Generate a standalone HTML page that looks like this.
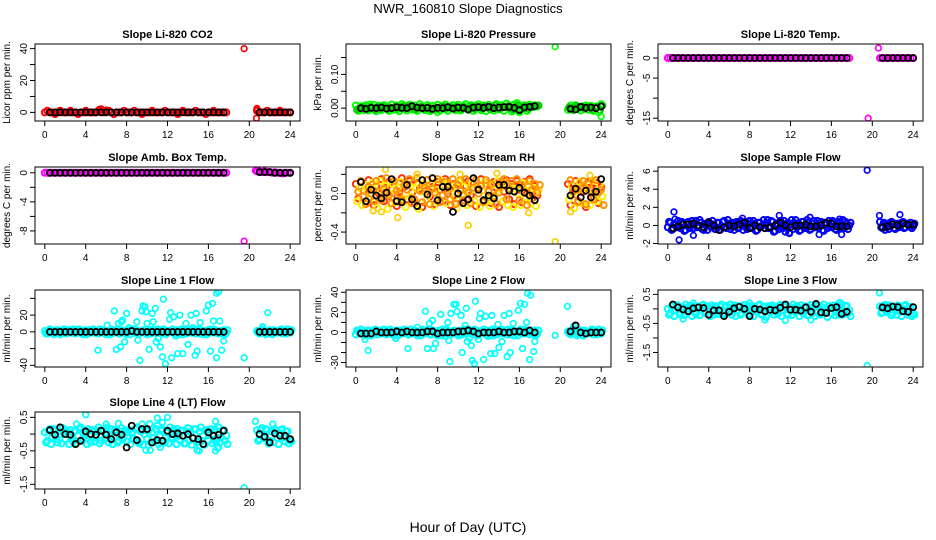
<!DOCTYPE html>
<html><head><meta charset="utf-8"><title>NWR_160810 Slope Diagnostics</title>
<style>
html,body{margin:0;padding:0;background:#fff;}
svg{display:block;font-family:"Liberation Sans",sans-serif;}
</style></head>
<body>
<svg id="chart" width="936" height="540" viewBox="0 0 936 540" xmlns="http://www.w3.org/2000/svg">
<rect width="936" height="540" fill="#fff"/>
<text x="468" y="13" text-anchor="middle" font-size="13">NWR_160810  Slope Diagnostics</text>
<text x="468" y="532" text-anchor="middle" font-size="14">Hour of Day (UTC)</text>
</svg>
<script>
// ---------- shared categories ----------
const xTicks = [0, 4, 8, 12, 16, 20, 24];
const blackHours = [0.5,1,1.5,2,2.5,3,3.5,4,4.5,5,5.5,6,6.5,7,7.5,8,8.5,9,9.5,10,10.5,11,11.5,12,12.5,13,13.5,14,14.5,15,15.5,16,16.5,17,17.5,21,21.5,22,22.5,23,23.5,24];
const bandHours = [];
for (let t = 0; t <= 17.75; t += 0.25) bandHours.push(t);
for (let t = 20.75; t <= 24; t += 0.25) bandHours.push(t);

// ---------- CO2 ----------
const co2Band = [0,1,0,0,-1,0,1,0,0,0, 1,0,0,-1,0,0,1,0,0,0, 0,1,2,0,1,1,0,-1,0,0, 0,1,0,0,0,1,0,0,-1,0, 0,0,1,0,0,0,0,1,0,0, 0,0,-1,0,1,0,0,0,0,1, 0,0,0,-1,0,0,1,0,0,0, 0,0, 1,0,0,0,1,0,0,0,0,1,0,0,0,0];
const co2OutHours = [19.5,20.7,20.75,20.8,5.3,6.0];
const co2OutVals = [40,-3.7,2.5,1.5,1.8,1.5];
const co2Black = [0,0,0,0,0,0,0,0,0,0,0,0,0,0,0,0,0,0,0,0,0,0,0,0,0,0,0,0,0,0,0,0,0,0,0,0,0,0,0,0,0,0];
const co2Ticks = [0,10,20,30,40];
const co2Labels = ["0","","20","","40"];

// ---------- Pressure ----------
const presBandA = [-0.004,-0.002,0.002,0.003,-0.003,0.004,0.000,-0.004,0.003,-0.002, 0.004,0.001,-0.003,0.002,0.000,0.004,-0.002,0.003,0.006,-0.001, 0.005,0.002,0.000,-0.003,0.002,0.004,-0.002,0.001,0.003,-0.004, 0.000,0.002,-0.003,0.004,0.005,-0.001,0.002,0.003,-0.002,0.004, 0.001,-0.003,0.003,0.000,0.005,0.002,-0.002,0.004,0.003,-0.001, 0.006,0.002,-0.003,0.004,0.008,0.001,-0.002,0.004,0.003,0.006, 0.000,-0.004,0.004,0.008,-0.003,0.002,0.005,-0.002,0.004,0.003, 0.006,0.008, 0.002,-0.003,0.004,0.006,0.001,0.003,-0.002,0.002,0.004,-0.004,0.001,0.003,-0.006,0.008];
const presBandB = [0.008,-0.008,0.006,-0.006,0.009,-0.007,0.005,0.010,-0.009,0.007, -0.006,0.009,0.004,-0.008,0.011,-0.005,0.008,-0.009,0.012,0.006, -0.007,0.010,-0.004,0.008,-0.008,0.012,0.005,-0.006,0.009,-0.009, 0.007,-0.005,0.010,-0.007,0.006,0.011,-0.008,0.004,0.009,-0.006, 0.010,-0.007,0.006,0.012,-0.005,0.009,-0.008,0.007,0.011,-0.006, 0.008,-0.009,0.010,0.005,-0.007,0.012,-0.004,0.009,-0.008,0.014, 0.006,-0.010,0.011,0.015,-0.012,0.007,0.009,-0.008,0.010,0.006, 0.009,0.005, -0.005,0.008,-0.006,0.009,0.004,-0.007,0.006,0.008,-0.005,0.007,-0.008,0.005,-0.012,0.012];
const presOutHours = [19.5,8.0,16.0,24.0,1.4];
const presOutVals = [0.182,-0.013,-0.013,-0.025,0.012];
const presBlack = [0,-0.002,0.001,0,0.002,-0.001,0,0.003,0.001,0, 0.006,0.002,0,0.001,-0.002,0.001,0,0.003,-0.001,0.002, 0.001,-0.004,0.002,0.003,0.001,0.004,0,0.002,0.003,0.004, 0.001,-0.006,0.002,0.004,0.006, -0.002,-0.004,0.004,0.001,0.002,0,0.005];
const presTicks = [0,0.05,0.10,0.15];
const presLabels = ["0.00","","0.10",""];

// ---------- Li-820 Temp ----------
const tempBand = [0,0,0,0,0,0,0,0,0,0, 0,0,0,0,0,0,0,0,0,0, 0,0,0,0,0,0,0,0,0,0, 0,0,0,0,0,0,0,0,0,0, 0,0,0,0,0,0,0,0,0,0, 0,0,0,0,0,0,0,0,0,0, 0,0,0,0,0,0,0,0,0,0, 0,0, 0,0,0,0,0,0,0,0,0,0,0,0,0,0];
const tempOutHours = [19.6,20.6,20.75];
const tempOutVals = [-15,2.5,0];
const tempBlack = [0,0,0,0,0,0,0,0,0,0,0,0,0,0,0,0,0,0,0,0,0,0,0,0,0,0,0,0,0,0,0,0,0,0,0,0,0,0,0,0,0,0];
const tempTicks = [0,-5,-10,-15];
const tempLabels = ["0","-5","","-15"];

// ---------- Amb Box Temp ----------
const ambBand = [0,0,0,0,0,0,0,0,0,0, 0,0,0,0,0,0,0,0,0,0, 0,0,0,0,0,0,0,0,0,0, 0,0,0,0,0,0,0,0,0,0, 0,0,0,0,0,0,0,0,0,0, 0,0,0,0,0,0,0,0,0,0, 0,0,0,0,0,0,0,0,0,0, 0,0, 0.2,0.2,0.1,0.2,0.1,0.1,0,0.1,0,0,-0.1,0,0,0];
const ambOutHours = [19.5,20.6,21.0];
const ambOutVals = [-9.4,0.3,0.2];
const ambBlack = [0,0,0,0,0,0,0,0,0,0,0,0,0,0,0,0,0,0,0,0,0,0,0,0,0,0,0,0,0,0,0,0,0,0,0,0.1,0.1,0.1,0,0,0,0];
const ambTicks = [0,-2,-4,-6,-8];
const ambLabels = ["0","","-4","","-8"];

// ---------- Gas Stream RH ----------
const rhBandA = [0.10,-0.05,0.12,0.03,-0.10,0.14,0.05,-0.12,0.08,0.00, 0.15,-0.08,0.06,0.12,-0.04,0.10,-0.13,0.02,0.16,0.07, -0.06,0.13,0.01,-0.10,0.11,0.05,-0.14,0.09,0.14,-0.03, 0.07,-0.11,0.12,0.04,-0.08,0.15,0.00,-0.12,0.10,0.06, -0.05,0.14,-0.09,0.08,0.13,-0.02,0.10,-0.13,0.05,0.15, -0.07,0.11,0.03,-0.10,0.12,0.06,-0.14,0.09,0.02,0.14, -0.06,0.10,-0.11,0.13,0.04,-0.09,0.12,0.00,0.15,-0.05, 0.08,-0.02, 0.10,-0.12,0.05,0.13,-0.08,0.09,0.02,-0.14,0.12,0.06,-0.04,0.11,-0.10,0.07];
const rhBandB = [-0.08,0.06,-0.12,0.09,0.02,-0.06,0.11,0.04,-0.15,0.13, -0.02,0.08,-0.16,0.00,0.10,-0.09,0.06,0.12,-0.05,-0.14, 0.09,-0.03,0.12,0.05,-0.16,0.02,0.10,-0.07,-0.01,0.11, -0.13,0.04,-0.06,0.13,0.08,-0.10,0.11,0.05,-0.04,-0.15, 0.12,-0.01,0.07,-0.12,0.02,0.10,-0.08,0.12,-0.14,0.03, 0.11,-0.06,-0.13,0.09,-0.02,0.13,0.05,-0.08,0.11,-0.12, 0.08,-0.14,0.05,0.00,-0.12,0.11,-0.04,0.09,-0.10,0.06, -0.13,0.04, -0.06,0.08,-0.15,0.02,0.12,-0.10,0.07,0.04,-0.12,0.13,0.00,-0.08,0.09,-0.03];
const rhBandC = [0.02,0.13,-0.03,-0.11,0.07,0.00,-0.08,0.13,0.02,-0.07, 0.05,0.16,-0.02,-0.10,0.13,0.03,0.00,-0.07,0.09,0.04, 0.15,-0.10,-0.06,0.16,0.03,-0.09,0.06,0.14,-0.11,0.05, 0.01,0.15,-0.09,-0.02,0.12,0.03,-0.06,0.15,-0.11,0.09, 0.03,-0.07,0.15,0.01,-0.10,0.06,0.14,0.00,0.08,-0.09, 0.14,0.02,0.10,-0.03,-0.11,0.01,0.12,0.15,-0.06,0.05, 0.13,0.02,0.15,-0.07,0.09,0.02,-0.12,0.13,0.04,0.10, 0.01,0.09, 0.14,0.02,-0.01,-0.09,0.05,0.13,-0.11,0.10,0.03,-0.06,0.14,0.01,0.04,-0.12];
const rhOutHours = [11.0,19.5,4.1,2.9,1.7,2.5,6.0,10.2,13.8,16.9,21.0,22.9];
const rhOutVals = [-0.33,-0.5,-0.25,0.25,-0.18,-0.19,0.2,0.2,0.21,-0.2,-0.19,0.19];
const rhBlack = [0.12,-0.08,0.04,-0.02,-0.05,0.01,0.15,-0.08,-0.09,0.09,-0.06,-0.13,0.14,-0.01,0.16,-0.07,0.07,0.07,-0.19,0.00,-0.10,-0.06,0.16,0.04,-0.07,-0.02,-0.05,0.09,0.09,0.03,0.02,0.06,0.01,-0.02,-0.07,-0.02,0.05,-0.04,0.03,-0.04,0.02,0.15];
const rhTicks = [-0.4,-0.2,0,0.2];
const rhLabels = ["-0.4","","0.0",""];

// ---------- Sample Flow ----------
const sampBandA = [-0.2,0.3,-0.4,0.1,0.5,-0.3,0.2,-0.5,0.4,0.0, -0.3,0.5,-0.1,0.3,-0.5,0.2,0.4,-0.2,0.1,-0.4, 0.3,-0.1,0.5,-0.3,0.2,0.0,-0.5,0.4,-0.2,0.3, 0.1,-0.4,0.5,-0.2,0.2,-0.5,0.3,0.0,-0.3,0.6, -0.1,0.4,-0.6,0.2,0.5,-0.3,-0.7,0.3,0.1,-0.4, 0.6,0.2,-0.5,0.4,-0.1,0.3,-0.4,0.5,0.0,-0.3, 0.4,-0.6,0.2,0.5,-0.2,0.3,-0.5,0.4,0.1,-0.3, 0.2,0.0, 0.4,-0.3,-0.5,0.2,-0.1,0.3,-0.4,0.2,0.0,0.4,-0.2,0.1,0.3,-0.1];
const sampBandB = [0.4,-0.5,0.2,-0.2,-0.1,0.4,-0.6,0.3,-0.3,0.5, 0.2,-0.2,0.6,-0.4,0.1,-0.5,0.0,0.5,-0.4,0.3, -0.5,0.4,-0.2,0.6,-0.4,0.3,0.2,-0.3,0.5,-0.5, 0.4,0.2,-0.3,0.5,-0.6,0.3,-0.1,0.6,0.2,-0.3, 0.5,-0.7,0.1,-0.4,-0.2,0.5,0.2,-0.8,0.6,0.3, -0.2,-0.6,0.4,-0.3,0.6,-0.5,0.2,-0.2,0.5,0.3, -0.5,0.3,-0.3,-0.1,0.5,-0.4,0.2,-0.2,0.6,0.4, -0.4,0.3, -0.2,0.3,0.1,-0.4,0.4,-0.3,0.1,-0.2,0.3,-0.3,0.2,-0.1,-0.3,0.2];
const sampOutHours = [19.5,0.6,0.7,1.1,20.7,22.7,2.5,14.8,11.9,10.9,13.9,7.3,17.0,16.8];
const sampOutVals = [6.1,1.5,0.7,-1.6,1.1,1.2,-1.1,-1.0,-0.9,1.1,0.9,0.8,-1.0,0.7];
const sampBlack = [-0.3,-0.1,0.1,0.1,0.2,0.0,-0.2,0.3,0.0,-0.5,-0.2,0.0,-0.1,0.1,0.3,-0.3,0.0,-0.2,-0.3,-0.2,0.0,0.3,0.0,-0.2,0.0,0.0,0.1,-0.1,-0.1,0.0,0.3,0.2,-0.1,-0.1,-0.1,-0.2,-0.1,0.1,0.0,0.2,0.1,0.1];
const sampTicks = [-2,0,2,4,6];
const sampLabels = ["-2","0","2","4","6"];

// ---------- Line 1 Flow ----------
const l1BandA = [1,-2,3,0,-1,2,-3,1,0,2, -1,3,-2,0,1,-3,2,0,-1,3, 1,-2,0,2,-3,1,3,-1,0,-2, 2,1,-3,0,3,-1,2,-2,1,0, -3,2,1,-1,3,0,-2,2,-1,1, 3,-2,0,1,-3,2,-1,3,0,-2, 1,2,-3,0,2,-1,3,1,-2,0, 2,-1, 1,-2,3,0,-1,2,-3,1,0,2,-2,1,3,-1];
const l1BandB = [-2,1,0,-3,2,1,-1,3,-2,0, 2,-1,1,3,-2,0,-3,2,1,-1, -2,3,1,-1,0,-3,2,1,3,-2, 0,-1,2,-3,1,3,-2,0,2,-1, 1,-2,3,0,-1,2,3,-3,1,0, -1,2,-3,3,0,-2,1,-1,2,3, -2,0,1,-3,3,2,-1,0,1,-2, -3,2, -1,2,0,-3,1,-2,2,0,-1,3,1,-2,0,2];
const l1OutHours = [5.2,6.8,7.0,7.2,7.4,7.5,7.6,7.8,8.0,8.2,9.0,9.1,9.3,9.5,9.6,9.8,9.9,10.0,10.2,10.5,10.6,10.8,10.9,11.1,11.3,11.5,11.6,11.8,12.2,12.3,12.4,12.6,12.8,13.0,13.2,13.5,13.8,14.0,14.3,14.5,14.7,14.9,14.8,15.2,15.8,16.0,16.2,16.5,16.4,16.8,16.8,17.0,17.1,17.3,17.5,19.5,21.8,21.3,3.0,4.0,6.1];
const l1OutVals = [-22,25,-21,10,-18,12,14,-12,22,5,12,-10,-34,25,31,30,24,10,-21,22,12,28,-12,-8,-18,-30,39,-38,15,23,-31,18,-5,-26,20,-26,10,-15,20,5,-28,-23,22,11,25,32,-23,13,34,-31,46,48,13,-22,-11,-31,23,6,3,-3,8];
const l1Black = [0,0,0,0,0,0,0,0,0,0,0,0,0,0,0,0,1,0,0,0,0,0,0,0,0,0,0,0,0,0,0,0,0,0,0,0,0,0,0,0,0,0];
const l1Ticks = [-40,-20,0,20,40];
const l1Labels = ["-40","","0","20",""];

// ---------- Line 2 Flow ----------
const l2BandA = [-2,1,3,0,-1,2,-3,1,0,2, -1,3,-2,0,1,-3,2,0,-1,3, 1,-2,0,2,-3,1,3,-1,0,-2, 2,1,-3,0,3,-1,2,-2,1,0, -3,2,1,-1,3,0,-2,2,-1,1, 3,-2,0,1,-3,2,-1,3,0,-2, 1,2,-3,0,2,-1,3,1,-2,0, 2,-1, 1,-2,3,0,-1,2,-3,1,0,2,-2,1,3,-1];
const l2BandB = [2,-1,0,-3,2,1,-1,3,-2,0, 2,-1,1,3,-2,0,-3,2,1,-1, -2,3,1,-1,0,-3,2,1,3,-2, 0,-1,2,-3,1,3,-2,0,2,-1, 1,-2,3,0,-1,2,3,-3,1,0, -1,2,-3,3,0,-2,1,-1,2,3, -2,0,1,-3,3,2,-1,0,1,-2, -3,2, -1,2,0,-3,1,-2,2,0,-1,3,1,-2,0,2];
const l2OutHours = [0.9,1.2,3.9,5.1,6.0,6.8,7.0,7.2,7.5,7.6,7.8,8.3,8.8,9.0,9.1,9.2,9.3,9.6,9.8,9.9,10.2,10.3,10.4,10.7,10.8,10.9,11.1,11.3,11.4,11.6,11.7,12.0,12.1,12.2,12.5,12.7,12.9,13.2,13.3,13.6,13.9,14.0,14.3,14.5,14.8,15.0,15.1,15.4,15.9,16.1,16.3,16.5,16.7,16.8,17.0,17.1,17.4,17.5,19.5,20.7,21.3];
const l2OutVals = [-7,-18,-6,-16,5,21,-16,9,12,-16,-11,18,-4,10,-8,-29,19,28,28,21,-3,17,-20,7,24,-9,-6,-13,-28,-31,31,-7,14,19,-27,16,-4,-21,17,-21,8,-15,-9,17,-24,19,-20,9,22,29,-16,28,10,39,-27,37,-19,-9,-3,26,6];
const l2Black = [-1,-1,-1,1,0,0,0,1,0,1,0,0,0,1,1,-1,0,0,0,1,1,2,1,-1,0,0,0,1,0,0,1,1,0,2,0,1,7,0,-1,0,0,0];
const l2Ticks = [-30,-20,-10,0,10,20,30,40];
const l2Labels = ["-30","","","0","","20","","40"];

// ---------- Line 3 Flow ----------
const l3BandA = [0.0,-0.15,0.1,-0.05,0.12,-0.2,0.05,0.15,-0.1,0.0, 0.1,-0.18,0.08,-0.02,0.14,-0.12,0.05,0.12,-0.2,0.03, -0.08,0.15,-0.15,0.1,0.0,-0.2,0.12,-0.05,0.08,-0.15, 0.14,0.0,-0.18,0.1,0.05,-0.1,0.15,-0.22,0.08,0.0, -0.12,0.12,0.03,-0.18,0.14,-0.05,0.1,-0.2,0.06,0.15, -0.1,0.0,0.12,-0.15,0.08,-0.22,0.14,0.02,-0.1,0.1, -0.18,0.15,-0.05,0.08,-0.15,0.12,0.0,-0.2,0.16,-0.08, 0.1,-0.05, 0.08,-0.12,0.14,-0.05,0.1,-0.15,0.05,0.12,-0.1,0.0,0.14,-0.2,0.06,-0.15];
const l3BandB = [-0.2,0.08,-0.25,0.12,-0.12,0.05,-0.22,0.0,0.1,-0.25, -0.1,0.05,-0.22,0.12,-0.15,0.08,-0.25,-0.05,0.1,-0.18, 0.08,-0.22,0.05,-0.12,0.15,-0.05,-0.25,0.1,-0.2,0.05, -0.12,0.1,0.02,-0.25,-0.1,0.12,-0.18,0.05,-0.28,0.1, 0.06,-0.2,-0.1,0.1,-0.25,0.08,-0.15,0.04,-0.22,-0.08, 0.1,-0.25,-0.05,0.08,-0.22,0.05,-0.15,-0.25,0.12,-0.2, 0.05,-0.15,-0.28,0.1,0.02,-0.22,0.12,-0.1,-0.2,0.1, -0.15,-0.25, -0.15,0.1,-0.1,0.12,-0.22,0.05,-0.2,0.1,-0.25,0.1,-0.08,0.05,-0.25,-0.2];
const l3OutHours = [19.5,20.7,1.5,9.5,11.5,14.0,2.5,8.0,16.8];
const l3OutVals = [-1.95,0.55,-0.35,-0.38,-0.4,-0.38,0.2,0.2,0.22];
const l3Black = [0.15,0.05,-0.02,-0.08,0.02,0.05,0.03,-0.2,-0.05,-0.05,-0.25,-0.1,0.02,0.07,0.0,-0.25,0.0,-0.02,-0.08,-0.03,-0.05,0.04,0.15,-0.03,-0.03,-0.06,0.05,-0.1,0.17,-0.12,-0.14,0.03,0.06,-0.17,-0.1,0.05,0.02,0.08,0.06,-0.08,-0.1,0.06];
const l3Ticks = [0.5,0,-0.5,-1,-1.5];
const l3Labels = ["0.5","","-0.5","","-1.5"];

// ---------- Line 4 (LT) Flow ----------
const l4BandA = [0.05,-0.2,0.15,-0.1,0.1,-0.25,0.0,0.18,-0.15,0.05, 0.12,-0.22,0.1,-0.05,0.2,-0.15,0.0,0.15,-0.25,0.08, -0.1,0.2,-0.2,0.12,0.02,-0.25,0.15,-0.08,0.1,-0.2, 0.18,0.0,-0.22,0.12,0.05,-0.15,0.2,-0.28,0.1,0.0, -0.15,0.3,0.05,-0.22,0.25,-0.05,0.15,-0.25,0.1,0.2, -0.12,0.05,0.15,-0.2,0.1,-0.28,0.18,0.05,-0.12,0.15, -0.22,0.2,-0.05,0.1,-0.2,0.15,0.0,-0.25,0.2,-0.1, 0.12,-0.05, 0.12,-0.15,0.18,-0.05,0.12,-0.2,0.08,0.15,-0.12,0.02,0.15,-0.22,0.08,-0.18];
const l4BandB = [-0.25,0.1,-0.3,0.15,-0.15,0.08,-0.28,0.02,0.12,-0.3, -0.12,0.08,-0.28,0.15,-0.2,0.1,-0.3,-0.05,0.12,-0.22, 0.1,-0.28,0.08,-0.15,0.2,-0.05,-0.3,0.12,-0.25,0.08, -0.15,0.12,0.05,-0.3,-0.12,0.15,-0.22,0.08,-0.32,0.12, 0.1,-0.25,-0.12,0.15,-0.3,0.1,-0.2,0.05,-0.28,-0.1, 0.15,-0.3,-0.05,0.1,-0.28,0.08,-0.2,-0.32,0.15,-0.25, 0.08,-0.2,-0.32,0.12,0.05,-0.28,0.15,-0.12,-0.25,0.12, -0.2,-0.3, -0.2,0.12,-0.12,0.15,-0.28,0.08,-0.25,0.12,-0.3,0.12,-0.1,0.08,-0.28,-0.22];
const l4OutHours = [19.5,4.0,9.9,10.3,11.0,11.5,12.0,11.3,14.9,15.1,16.7,16.9,17.0,16.7,20.6,22.3,6.0,9.5,3.1,7.2];
const l4OutVals = [-1.6,0.58,-0.48,-0.48,0.48,0.35,0.5,-0.4,-0.48,-0.5,-0.5,-0.42,-0.4,0.38,0.38,0.3,0.3,0.3,0.3,0.32];
const l4Black = [0.12,-0.02,0.2,0.0,-0.02,-0.3,-0.2,0.08,0.0,-0.02,0.1,-0.02,-0.15,0.05,-0.02,-0.4,0.25,-0.18,0.15,0.15,-0.25,-0.18,-0.2,0.1,0.0,0.02,-0.05,0.0,-0.12,-0.15,-0.3,0.05,-0.05,-0.02,0.1,0.0,-0.08,-0.25,0.02,-0.05,-0.05,-0.15];
const l4Ticks = [0.5,0,-0.5,-1,-1.5];
const l4Labels = ["0.5","","-0.5","","-1.5"];

// ---------- layout ----------
const colLeft = [35, 346, 658];
const rowTop = [44, 167, 290, 412];
const boxW = 265, boxH = 77;

const panels = [
 {key:'co2', col:0,row:0,title:'Slope Li-820 CO2', ylab:'Licor ppm per min.', ymin:-5.4, ymax:42.9, ticks:co2Ticks, labels:co2Labels, bands:[co2Band], bandColors:['#ff0000'], outH:co2OutHours, outV:co2OutVals, outColor:'#ff0000', black:co2Black},
 {key:'pressure', col:1,row:0,title:'Slope Li-820 Pressure', ylab:'kPa per min.', ymin:-0.038, ymax:0.19, ticks:presTicks, labels:presLabels, bands:[presBandB,presBandA], bandColors:['#00ff00','#00cc00'], outH:presOutHours, outV:presOutVals, outColor:'#00ff00', black:presBlack},
 {key:'li820-temp', col:2,row:0,title:'Slope Li-820 Temp.', ylab:'degrees C per min.', ymin:-15.7, ymax:3.5, ticks:tempTicks, labels:tempLabels, bands:[tempBand], bandColors:['#ff00ff'], outH:tempOutHours, outV:tempOutVals, outColor:'#ff00ff', black:tempBlack},
 {key:'amb-box-temp', col:0,row:1,title:'Slope Amb. Box Temp.', ylab:'degrees C per min.', ymin:-9.8, ymax:0.8, ticks:ambTicks, labels:ambLabels, bands:[ambBand], bandColors:['#ff00ff'], outH:ambOutHours, outV:ambOutVals, outColor:'#ff00ff', black:ambBlack},
 {key:'gas-stream-rh', col:1,row:1,title:'Slope Gas Stream RH', ylab:'percent per min.', ymin:-0.524, ymax:0.276, ticks:rhTicks, labels:rhLabels, bands:[rhBandA,rhBandB,rhBandC], bandColors:['#ff3000','#ffee00','#ff9000'], outH:rhOutHours, outV:rhOutVals, outColor:'#ffcc00', black:rhBlack},
 {key:'sample-flow', col:2,row:1,title:'Slope Sample Flow', ylab:'ml/min per min.', ymin:-2.05, ymax:6.46, ticks:sampTicks, labels:sampLabels, bands:[sampBandA,sampBandB], bandColors:['#0000ff','#0000ee'], outH:sampOutHours, outV:sampOutVals, outColor:'#0000ff', black:sampBlack},
 {key:'line1-flow', col:0,row:2,title:'Slope Line 1 Flow', ylab:'ml/min per min.', ymin:-42, ymax:50, ticks:l1Ticks, labels:l1Labels, bands:[l1BandA,l1BandB], bandColors:['#00ffff','#00ffff'], outH:l1OutHours, outV:l1OutVals, outColor:'#00ffff', black:l1Black},
 {key:'line2-flow', col:1,row:2,title:'Slope Line 2 Flow', ylab:'ml/min per min.', ymin:-34.4, ymax:42.3, ticks:l2Ticks, labels:l2Labels, bands:[l2BandA,l2BandB], bandColors:['#00ffff','#00ffff'], outH:l2OutHours, outV:l2OutVals, outColor:'#00ffff', black:l2Black},
 {key:'line3-flow', col:2,row:2,title:'Slope Line 3 Flow', ylab:'ml/min per min.', ymin:-2.0, ymax:0.65, ticks:l3Ticks, labels:l3Labels, bands:[l3BandA,l3BandB], bandColors:['#00ffff','#00ffff'], outH:l3OutHours, outV:l3OutVals, outColor:'#00ffff', black:l3Black},
 {key:'line4-flow', col:0,row:3,title:'Slope Line 4 (LT) Flow', ylab:'ml/min per min.', ymin:-1.64, ymax:0.66, ticks:l4Ticks, labels:l4Labels, bands:[l4BandA,l4BandB], bandColors:['#00ffff','#00ffff'], outH:l4OutHours, outV:l4OutVals, outColor:'#00ffff', black:l4Black}
];

const NS = 'http://www.w3.org/2000/svg';
const svg = document.getElementById('chart');
function mk(tag, attrs, parent) {
  const e = document.createElementNS(NS, tag);
  for (const k in attrs) e.setAttribute(k, attrs[k]);
  parent.appendChild(e);
  return e;
}
const defs = mk('defs', {}, svg);

panels.forEach((p) => {
  const L = colLeft[p.col], T = rowTop[p.row], B = T + boxH, R = L + boxW;
  const xs = h => L + (h + 0.96) / 25.92 * boxW;
  const ys = v => B - (v - p.ymin) / (p.ymax - p.ymin) * boxH;

  const g = mk('g', {}, svg);
  
  

  const clip = mk('clipPath', {id: 'clip-' + p.key}, defs);
  mk('rect', {x: L, y: T, width: boxW, height: boxH}, clip);

  const title = mk('text', {x: (L + R) / 2, y: T - 6, 'text-anchor': 'middle', 'font-size': 11, 'font-weight': 'bold'}, g);
  title.textContent = p.title;
  
  

  const yl = mk('text', {transform: `translate(${L - 25},${(T + B) / 2}) rotate(-90)`, 'text-anchor': 'middle', 'font-size': 10}, g);
  yl.textContent = p.ylab;
  
  

  const xa = mk('g', {stroke: '#000', 'stroke-width': 1}, g);
  
  
  mk('line', {x1: xs(xTicks[0]), x2: xs(xTicks[xTicks.length - 1]), y1: B, y2: B}, xa);
  xTicks.forEach(t => {
    mk('line', {x1: xs(t), x2: xs(t), y1: B, y2: B + 5}, xa);
    const tl = mk('text', {x: xs(t), y: B + 17, 'text-anchor': 'middle', 'font-size': 10, stroke: 'none', fill: '#000'}, xa);
    tl.textContent = String(t);
    
    
  });

  const ya = mk('g', {stroke: '#000', 'stroke-width': 1}, g);
  
  
  p.ticks.forEach((t, i) => {
    mk('line', {x1: L - 5, x2: L, y1: ys(t), y2: ys(t)}, ya);
    if (p.labels[i]) {
      const tl = mk('text', {transform: `translate(${L - 8},${ys(t)}) rotate(-90)`, 'text-anchor': 'middle', 'font-size': 10, stroke: 'none', fill: '#000'}, ya);
      tl.textContent = p.labels[i];
      
      
    }
  });

  const pts = mk('g', {'clip-path': `url(#clip-${p.key})`, fill: 'none', 'stroke-width': 2}, g);
  
  

  p.bands.forEach((arr, bi) => {
    const off = bi * 0.12;
    arr.forEach((v, i) => {
      const c = mk('circle', {cx: xs(bandHours[i] + off), cy: ys(v), r: 3, stroke: p.bandColors[bi]}, pts);
      
      
    });
  });
  p.outH.forEach((h, i) => {
    const c = mk('circle', {cx: xs(h), cy: ys(p.outV[i]), r: 2.8, stroke: p.outColor, 'stroke-width': 1.7}, pts);
    
    
  });
  p.black.forEach((v, i) => {
    const c = mk('circle', {cx: xs(blackHours[i]), cy: ys(v), r: 3, stroke: '#000', 'stroke-width': 1.8}, pts);
    
    
  });

  const box = mk('rect', {x: L, y: T, width: boxW, height: boxH, fill: 'none', stroke: '#000', 'stroke-width': 1}, g);
  
  
});
</script>
</body></html>
